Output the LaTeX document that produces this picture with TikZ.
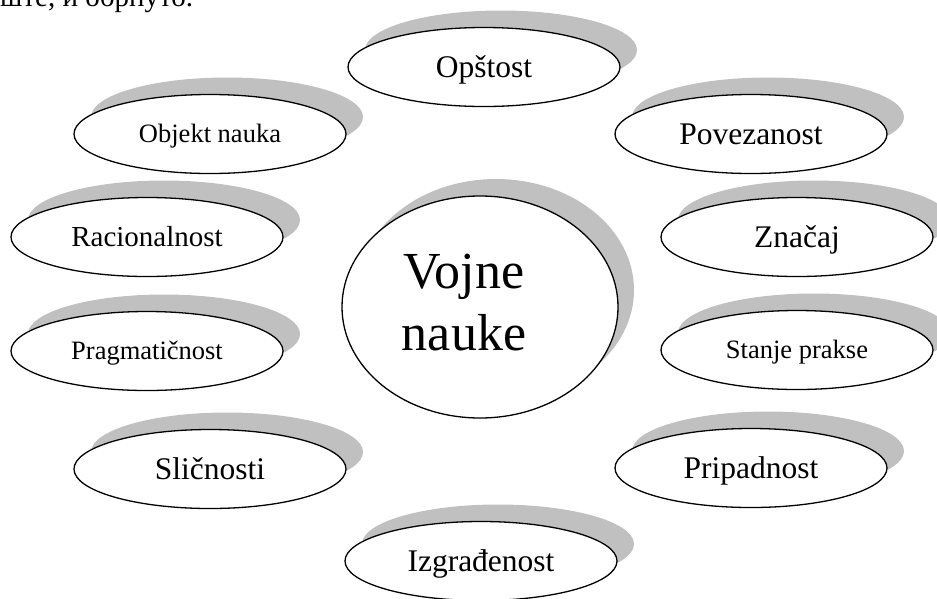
\documentclass[tikz,border=0pt]{standalone}
\usepackage{fontspec}
\setmainfont{Liberation Serif}
\usetikzlibrary{shapes.geometric,backgrounds}
\definecolor{shadowgray}{RGB}{192,192,192}
\tikzset{
  bubble/.style={ellipse, draw=black, line width=1.3pt, fill=white,
    minimum width=272pt, minimum height=79pt, inner sep=0pt},
  shade3d/.style={fill=shadowgray, draw=none},
  bigtext/.style={font=\fontsize{31.5}{36}\selectfont, text height=20.9pt, text depth=0pt},
  midtext/.style={font=\fontsize{29}{34}\selectfont, text height=19.2pt, text depth=0pt},
  smalltext/.style={font=\fontsize{26.5}{30}\selectfont, text height=17.5pt, text depth=0pt},
  toptext/.style={font=\fontsize{29}{33}\selectfont, inner sep=0pt, anchor=base west},
  centertext/.style={font=\fontsize{52}{62}\selectfont, align=center, inner sep=0pt}
}
\begin{document}
\begin{tikzpicture}[x=1pt,y=-1pt]
\clip (0,0) rectangle (937,598);
\node[toptext] (top) at (0,6.5) {ште, и обрнуто.};
\node[bubble,bigtext] (opstost) at (484,67) {Opštost};
\node[bubble,smalltext] (objekt) at (210,134) {Objekt nauka};
\node[bubble,bigtext] (povezanost) at (751,134) {Povezanost};
\node[bubble,midtext] (racionalnost) at (147,237) {Racionalnost};
\node[bubble,bigtext] (znacaj) at (797,237) {Značaj};
\node[bubble,smalltext] (pragmaticnost) at (147,351) {Pragmatičnost};
\node[bubble,smalltext] (stanje) at (797,350) {Stanje prakse};
\node[bubble,bigtext] (slicnosti) at (210,469) {Sličnosti};
\node[bubble,bigtext] (pripadnost) at (751,468) {Pripadnost};
\node[bubble,bigtext] (izgradjenost) at (481,561) {Izgrađenost};
\node[bubble, minimum width=276pt, minimum height=222pt] (center) at (480,307) {};
\node[centertext] (centerlabel) at (464,303) {Vojne\\nauke};
\begin{scope}[on background layer]
  \foreach \n in {opstost,objekt,povezanost,racionalnost,znacaj,pragmaticnost,stanje,slicnosti,pripadnost,izgradjenost}
    \fill[shade3d] ([shift={(17,-17)}]\n.center) ellipse [x radius=136pt, y radius=39.5pt];
  \fill[shade3d] ([shift={(16,-17)}]center.center) ellipse [x radius=138pt, y radius=111pt];
\end{scope}
\end{tikzpicture}
\end{document}
